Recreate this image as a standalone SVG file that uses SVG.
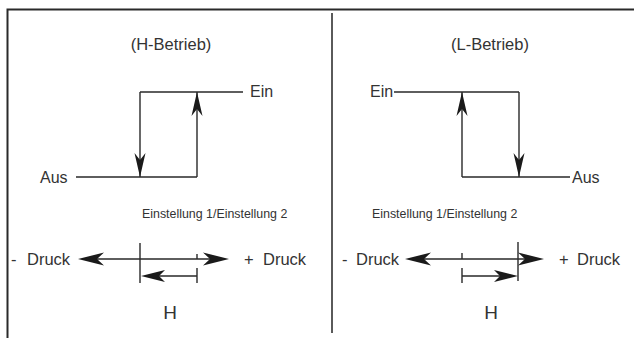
<svg xmlns="http://www.w3.org/2000/svg" width="634" height="338" viewBox="0 0 634 338">
<style>
.frame{stroke:#2a2a2a;stroke-width:2;fill:none}
.div{stroke:#5a5a5a;stroke-width:2;fill:none}
.ln{stroke:#2a2a2a;stroke-width:1.4;fill:none}
.ah{fill:#1a1a1a;stroke:none}
text{font-family:"Liberation Sans",Arial,sans-serif;fill:#333}
.t1{font-size:16.5px}
.t2{font-size:16px}
.t3{font-size:12.4px}
.t4{font-size:16.5px}
.t5{font-size:19px}
</style>
<rect width="634" height="338" fill="#fff"/>
<g id="frame">
<path class="frame" d="M7.5 338 V9.5 H634"/>
<path class="div" d="M332 13 V333"/>
</g>
<g id="h-betrieb">
<text class="t1" x="171" y="50" text-anchor="middle">(H-Betrieb)</text>
<text class="t2" x="250" y="97">Ein</text>
<text class="t2" x="40" y="183">Aus</text>
<text class="t3" x="142" y="218">Einstellung 1/Einstellung 2</text>
<text class="t4" y="265"><tspan x="11">-</tspan><tspan x="27">Druck</tspan></text>
<text class="t4" y="265"><tspan x="244">+</tspan><tspan x="263">Druck</tspan></text>
<text class="t5" x="170" y="319" text-anchor="middle">H</text>
</g>
<g id="l-betrieb">
<text class="t1" x="490" y="50" text-anchor="middle">(L-Betrieb)</text>
<text class="t2" x="370" y="97">Ein</text>
<text class="t2" x="572" y="183">Aus</text>
<text class="t3" x="372" y="218">Einstellung 1/Einstellung 2</text>
<text class="t4" y="265"><tspan x="342">-</tspan><tspan x="356">Druck</tspan></text>
<text class="t4" y="265"><tspan x="559">+</tspan><tspan x="577">Druck</tspan></text>
<text class="t5" x="491" y="319" text-anchor="middle">H</text>
</g>
<g id="connectors">
<path class="ln" d="M140 92 H243 M140 92 V177 M197 92 V177 M76 177 H197"/>
<polygon class="ah" points="140,177 134.5,153 140,160 145.5,153"/>
<polygon class="ah" points="197,92 191.5,116 197,109 202.5,116"/>
<path class="ln" d="M394 92 H519 M462 92 V177 M519 92 V177 M462 177 H570"/>
<polygon class="ah" points="462,92 456.5,116 462,109 467.5,116"/>
<polygon class="ah" points="519,177 513.5,153 519,160 524.5,153"/>
<path class="ln" d="M90 259 H218 M140 243 V283 M197 254 V259 M150 276 H197 M197 268 V283"/>
<polygon class="ah" points="78,259 104,252.5 97,259 104,265.5"/>
<polygon class="ah" points="229,259 203,252.5 210,259 203,265.5"/>
<polygon class="ah" points="141,276 165,270 159,276 165,282"/>
<path class="ln" d="M415 259 H534 M518 242 V281 M462 253 V259 M462 276 H508 M462 268 V283"/>
<polygon class="ah" points="405,259 431,252.5 424,259 431,265.5"/>
<polygon class="ah" points="544,259 518,252.5 525,259 518,265.5"/>
<polygon class="ah" points="518,276 494,270 500,276 494,282"/>
</g>
</svg>
